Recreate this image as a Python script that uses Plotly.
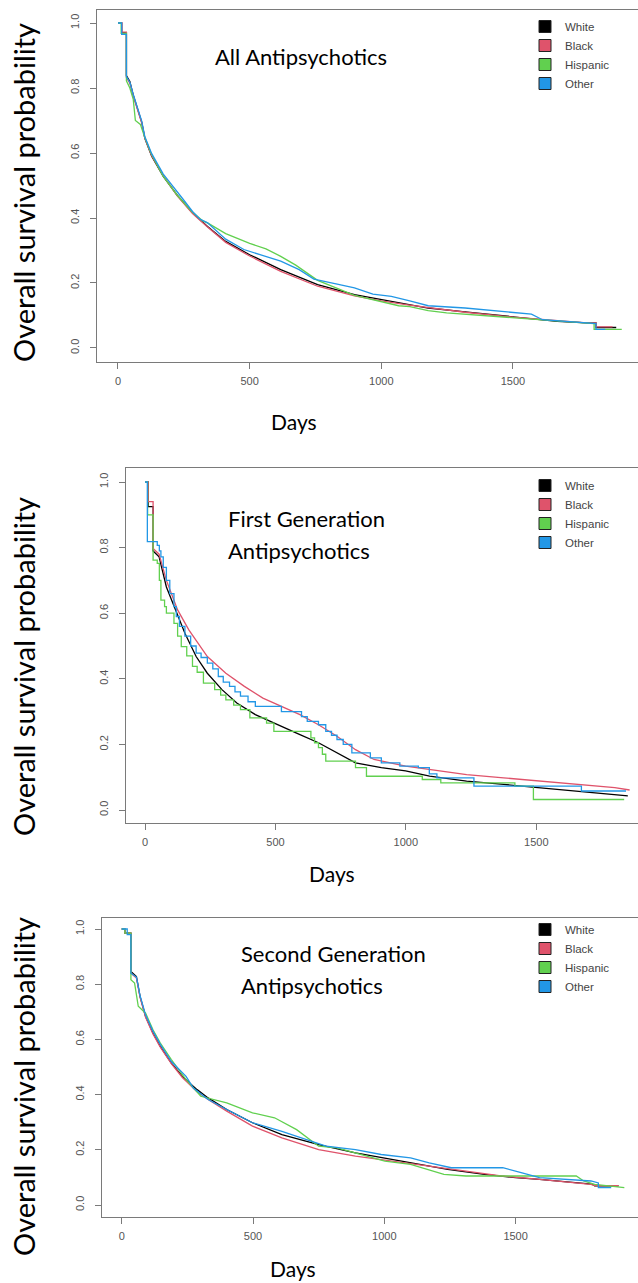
import plotly.graph_objects as go

W, H = 638, 1283

groups = ["White", "Black", "Hispanic", "Other"]
colors = ["#000000", "#DF536B", "#61D04F", "#2297E6"]

panel_titles = [["All Antipsychotics"], ["First Generation", "Antipsychotics"], ["Second Generation", "Antipsychotics"]]
x_ticks = [0, 500, 1000, 1500]
y_ticks = [0.0, 0.2, 0.4, 0.6, 0.8, 1.0]
y_ticktext = ["0.0", "0.2", "0.4", "0.6", "0.8", "1.0"]

# ---------------- Panel 1: All antipsychotics ----------------
all_white_days = [0, 14, 14, 32, 32, 45, 58, 75, 90, 102, 128, 172, 225, 283, 340, 409, 500, 618, 758, 898, 1000, 1178, 1318, 1500, 1668, 1780, 1815, 1815, 1892]
all_white_surv = [1.0, 1.0, 0.970, 0.970, 0.838, 0.820, 0.778, 0.735, 0.695, 0.645, 0.590, 0.528, 0.470, 0.416, 0.374, 0.328, 0.287, 0.241, 0.195, 0.164, 0.149, 0.123, 0.111, 0.097, 0.082, 0.077, 0.077, 0.063, 0.063]
all_black_days = [0, 15, 15, 32, 32, 45, 58, 75, 90, 102, 128, 172, 225, 283, 340, 409, 500, 618, 758, 898, 1000, 1100, 1178, 1318, 1500, 1668, 1780, 1815, 1815, 1878]
all_black_surv = [1.0, 1.0, 0.972, 0.972, 0.832, 0.815, 0.775, 0.735, 0.693, 0.645, 0.592, 0.530, 0.468, 0.414, 0.372, 0.325, 0.283, 0.236, 0.190, 0.160, 0.145, 0.133, 0.124, 0.110, 0.095, 0.083, 0.077, 0.077, 0.065, 0.065]
all_hisp_days = [0, 12, 12, 32, 32, 45, 58, 66, 85, 100, 125, 170, 225, 280, 320, 340, 409, 500, 562, 618, 675, 730, 758, 898, 1000, 1066, 1108, 1178, 1248, 1458, 1598, 1780, 1808, 1808, 1913]
all_hisp_surv = [1.0, 1.0, 0.968, 0.968, 0.822, 0.800, 0.765, 0.700, 0.688, 0.652, 0.600, 0.530, 0.470, 0.420, 0.392, 0.385, 0.352, 0.322, 0.305, 0.282, 0.255, 0.222, 0.208, 0.162, 0.142, 0.130, 0.127, 0.115, 0.108, 0.095, 0.087, 0.077, 0.075, 0.057, 0.057]
all_other_days = [0, 14, 14, 32, 32, 45, 58, 75, 90, 102, 128, 172, 199, 245, 283, 311, 340, 409, 478, 560, 618, 688, 744, 828, 898, 968, 1038, 1108, 1178, 1318, 1458, 1570, 1612, 1794, 1815, 1815, 1850]
all_other_surv = [1.0, 1.0, 0.965, 0.965, 0.835, 0.818, 0.780, 0.738, 0.698, 0.650, 0.598, 0.535, 0.508, 0.460, 0.420, 0.397, 0.385, 0.335, 0.303, 0.283, 0.267, 0.241, 0.212, 0.197, 0.185, 0.166, 0.159, 0.145, 0.130, 0.123, 0.113, 0.104, 0.087, 0.077, 0.075, 0.057, 0.057]

# ---------------- Panel 2: First generation ----------------
fga_white_days = [0, 12, 12, 31, 31, 54, 82, 111, 153, 196, 239, 295, 352, 423, 499, 594, 665, 736, 807, 906, 999, 1091, 1233, 1375, 1517, 1659, 1801, 1851]
fga_white_surv = [1.0, 1.0, 0.925, 0.925, 0.790, 0.772, 0.680, 0.620, 0.539, 0.468, 0.417, 0.367, 0.326, 0.291, 0.265, 0.230, 0.205, 0.174, 0.144, 0.129, 0.119, 0.103, 0.088, 0.078, 0.068, 0.058, 0.048, 0.043]
fga_black_days = [0, 12, 12, 31, 31, 54, 82, 125, 168, 239, 310, 381, 452, 523, 594, 665, 736, 807, 878, 999, 1091, 1233, 1375, 1517, 1659, 1801, 1858]
fga_black_surv = [1.0, 1.0, 0.940, 0.940, 0.797, 0.780, 0.700, 0.610, 0.549, 0.468, 0.417, 0.377, 0.341, 0.316, 0.291, 0.260, 0.225, 0.184, 0.154, 0.134, 0.124, 0.108, 0.098, 0.088, 0.078, 0.068, 0.061]
fga_hisp_days = [0, 10, 31, 47, 55, 61, 75, 82, 111, 125, 139, 160, 182, 200, 224, 267, 290, 310, 340, 366, 402, 466, 494, 636, 650, 665, 680, 693, 807, 849, 1063, 1134, 1418, 1489, 1837]
fga_hisp_surv = [1.0, 0.900, 0.762, 0.752, 0.700, 0.640, 0.620, 0.600, 0.569, 0.530, 0.498, 0.470, 0.438, 0.420, 0.387, 0.367, 0.350, 0.336, 0.320, 0.306, 0.281, 0.265, 0.240, 0.220, 0.205, 0.190, 0.170, 0.149, 0.129, 0.103, 0.093, 0.083, 0.073, 0.032, 0.032]
fga_other_days = [0, 9, 47, 55, 61, 70, 82, 95, 111, 120, 132, 153, 175, 196, 215, 239, 260, 281, 300, 324, 345, 366, 395, 423, 523, 600, 622, 665, 693, 715, 736, 760, 793, 864, 906, 977, 1048, 1090, 1119, 1261, 1673, 1844]
fga_other_surv = [1.0, 0.818, 0.807, 0.790, 0.772, 0.740, 0.700, 0.660, 0.620, 0.590, 0.560, 0.530, 0.500, 0.478, 0.465, 0.448, 0.430, 0.407, 0.390, 0.377, 0.360, 0.347, 0.330, 0.316, 0.300, 0.285, 0.270, 0.260, 0.240, 0.228, 0.215, 0.200, 0.174, 0.159, 0.144, 0.134, 0.129, 0.110, 0.098, 0.073, 0.058, 0.058]

# ---------------- Panel 3: Second generation ----------------
sga_white_days = [0, 12, 12, 35, 35, 56, 70, 91, 119, 147, 189, 231, 287, 329, 400, 498, 610, 750, 890, 1000, 1100, 1241, 1381, 1500, 1591, 1731, 1790, 1801, 1892]
sga_white_surv = [1.0, 1.0, 0.985, 0.985, 0.846, 0.828, 0.755, 0.683, 0.623, 0.575, 0.514, 0.466, 0.418, 0.388, 0.346, 0.298, 0.255, 0.219, 0.189, 0.171, 0.153, 0.129, 0.111, 0.099, 0.093, 0.081, 0.076, 0.069, 0.069]
sga_black_days = [0, 12, 12, 35, 35, 56, 70, 91, 119, 147, 189, 231, 287, 329, 400, 498, 610, 750, 890, 1030, 1171, 1311, 1451, 1591, 1787, 1801, 1892]
sga_black_surv = [1.0, 1.0, 0.985, 0.985, 0.840, 0.822, 0.752, 0.680, 0.620, 0.572, 0.512, 0.462, 0.410, 0.382, 0.340, 0.286, 0.243, 0.201, 0.177, 0.159, 0.141, 0.123, 0.105, 0.093, 0.075, 0.070, 0.070]
sga_hisp_days = [0, 12, 12, 35, 35, 49, 63, 91, 119, 147, 189, 245, 301, 329, 400, 498, 582, 666, 750, 820, 890, 1002, 1100, 1227, 1311, 1731, 1759, 1801, 1914]
sga_hisp_surv = [1.0, 1.0, 0.985, 0.985, 0.816, 0.804, 0.720, 0.695, 0.635, 0.587, 0.527, 0.454, 0.394, 0.388, 0.370, 0.334, 0.316, 0.273, 0.213, 0.207, 0.189, 0.159, 0.147, 0.111, 0.105, 0.105, 0.087, 0.075, 0.063]
sga_other_days = [0, 21, 21, 35, 35, 56, 70, 91, 119, 147, 189, 245, 273, 329, 400, 498, 610, 722, 778, 890, 988, 1100, 1171, 1255, 1451, 1521, 1591, 1787, 1815, 1815, 1864]
sga_other_surv = [1.0, 1.0, 0.980, 0.980, 0.840, 0.826, 0.758, 0.688, 0.630, 0.582, 0.520, 0.466, 0.424, 0.382, 0.346, 0.298, 0.267, 0.231, 0.213, 0.201, 0.183, 0.171, 0.153, 0.135, 0.135, 0.117, 0.099, 0.087, 0.080, 0.063, 0.063]

series = [
    [(all_white_days, all_white_surv), (all_black_days, all_black_surv), (all_hisp_days, all_hisp_surv), (all_other_days, all_other_surv)],
    [(fga_white_days, fga_white_surv), (fga_black_days, fga_black_surv), (fga_hisp_days, fga_hisp_surv), (fga_other_days, fga_other_surv)],
    [(sga_white_days, sga_white_surv), (sga_black_days, sga_black_surv), (sga_hisp_days, sga_hisp_surv), (sga_other_days, sga_other_surv)],
]
line_shapes = [
    ["linear", "linear", "linear", "linear"],
    ["linear", "linear", "hv", "hv"],
    ["linear", "linear", "linear", "linear"],
]

# ---------------- layout geometry (pixels) ----------------
panels = [
    dict(left=97, top=10, bottom=362, xr=[-79.7, 1974.7], yr=[-0.0431, 1.040],
         title_x=213, title_y=[56], days=(294, 421), ytitle_y=193, leg_top=12),
    dict(left=125.7, top=468, bottom=823, xr=[-74, 1890], yr=[-0.0396, 1.0427],
         title_x=226, title_y=[518, 550], days=(332, 873), ytitle_y=667, leg_top=471),
    dict(left=101.7, top=918, bottom=1216.7, xr=[-76.2, 1966], yr=[-0.0424, 1.0399],
         title_x=239, title_y=[953, 985], days=(293, 1268), ytitle_y=1087, leg_top=915),
]

fig = go.Figure()
annotations = []
layout = {}
axis_color = "#7a7a7a"
tick_font = dict(family="Liberation Sans, Arial, sans-serif", size=11, color="#555555")
big_font = "Lato, Carlito, Calibri, sans-serif"

for i, p in enumerate(panels):
    s = "" if i == 0 else str(i + 1)
    for j, g in enumerate(groups):
        d, v = series[i][j]
        fig.add_trace(go.Scatter(
            x=d, y=v, mode="lines",
            line=dict(color=colors[j], width=1.3, shape=line_shapes[i][j]),
            xaxis="x" + s, yaxis="y" + s, showlegend=False, hoverinfo="skip"))
    for j, g in enumerate(groups):
        fig.add_trace(go.Scatter(
            x=[None], y=[None], mode="markers", name=g,
            marker=dict(symbol="square", size=12, color=colors[j], line=dict(color="#222222", width=1)),
            xaxis="x" + s, yaxis="y" + s, legend="legend" + s, showlegend=True))

    ydom = [1 - p["bottom"] / H, 1 - p["top"] / H]
    layout["xaxis" + s] = dict(
        domain=[p["left"] / W, 1.0], range=p["xr"], anchor="y" + s,
        tickvals=x_ticks, ticks="outside", ticklen=6, tickwidth=1.2, tickcolor=axis_color,
        showline=True, mirror=True, linecolor=axis_color, linewidth=1.3,
        showgrid=False, zeroline=False, tickfont=tick_font, fixedrange=True, ticklabelstandoff=3)
    layout["yaxis" + s] = dict(
        domain=ydom, range=p["yr"], anchor="x" + s,
        tickvals=y_ticks, ticktext=y_ticktext, tickangle=-90,
        ticks="outside", ticklen=6, tickwidth=1.2, tickcolor=axis_color,
        showline=True, mirror=False, linecolor=axis_color, linewidth=1.3,
        showgrid=False, zeroline=False, tickfont=tick_font, fixedrange=True, ticklabelstandoff=6)
    layout["legend" + s] = dict(
        x=525 / W, y=1 - p["leg_top"] / H, xanchor="left", yanchor="top",
        bgcolor="rgba(0,0,0,0)", borderwidth=0, itemsizing="trace",
        font=dict(family="Liberation Sans, Arial, sans-serif", size=11.5, color="#444444"))

    for k, t in enumerate(panel_titles[i]):
        annotations.append(dict(
            text=t, x=p["title_x"] / W, y=1 - p["title_y"][k] / H, xref="paper", yref="paper",
            xanchor="left", yanchor="middle", showarrow=False,
            font=dict(family=big_font, size=22, color="#000000")))
    annotations.append(dict(
        text="Days", x=p["days"][0] / W, y=1 - p["days"][1] / H, xref="paper", yref="paper",
        xanchor="center", yanchor="middle", showarrow=False,
        font=dict(family=big_font, size=21, color="#000000")))
    annotations.append(dict(
        text="Overall survival probability", x=23 / W, y=1 - p["ytitle_y"] / H,
        xref="paper", yref="paper", xanchor="center", yanchor="middle", textangle=-90,
        showarrow=False, font=dict(family=big_font, size=29, color="#000000")))

fig.update_layout(
    width=W, height=H, autosize=False,
    margin=dict(l=0, r=0, t=0, b=0),
    paper_bgcolor="white", plot_bgcolor="white",
    annotations=annotations, **layout)

fig.write_html("out.html")
